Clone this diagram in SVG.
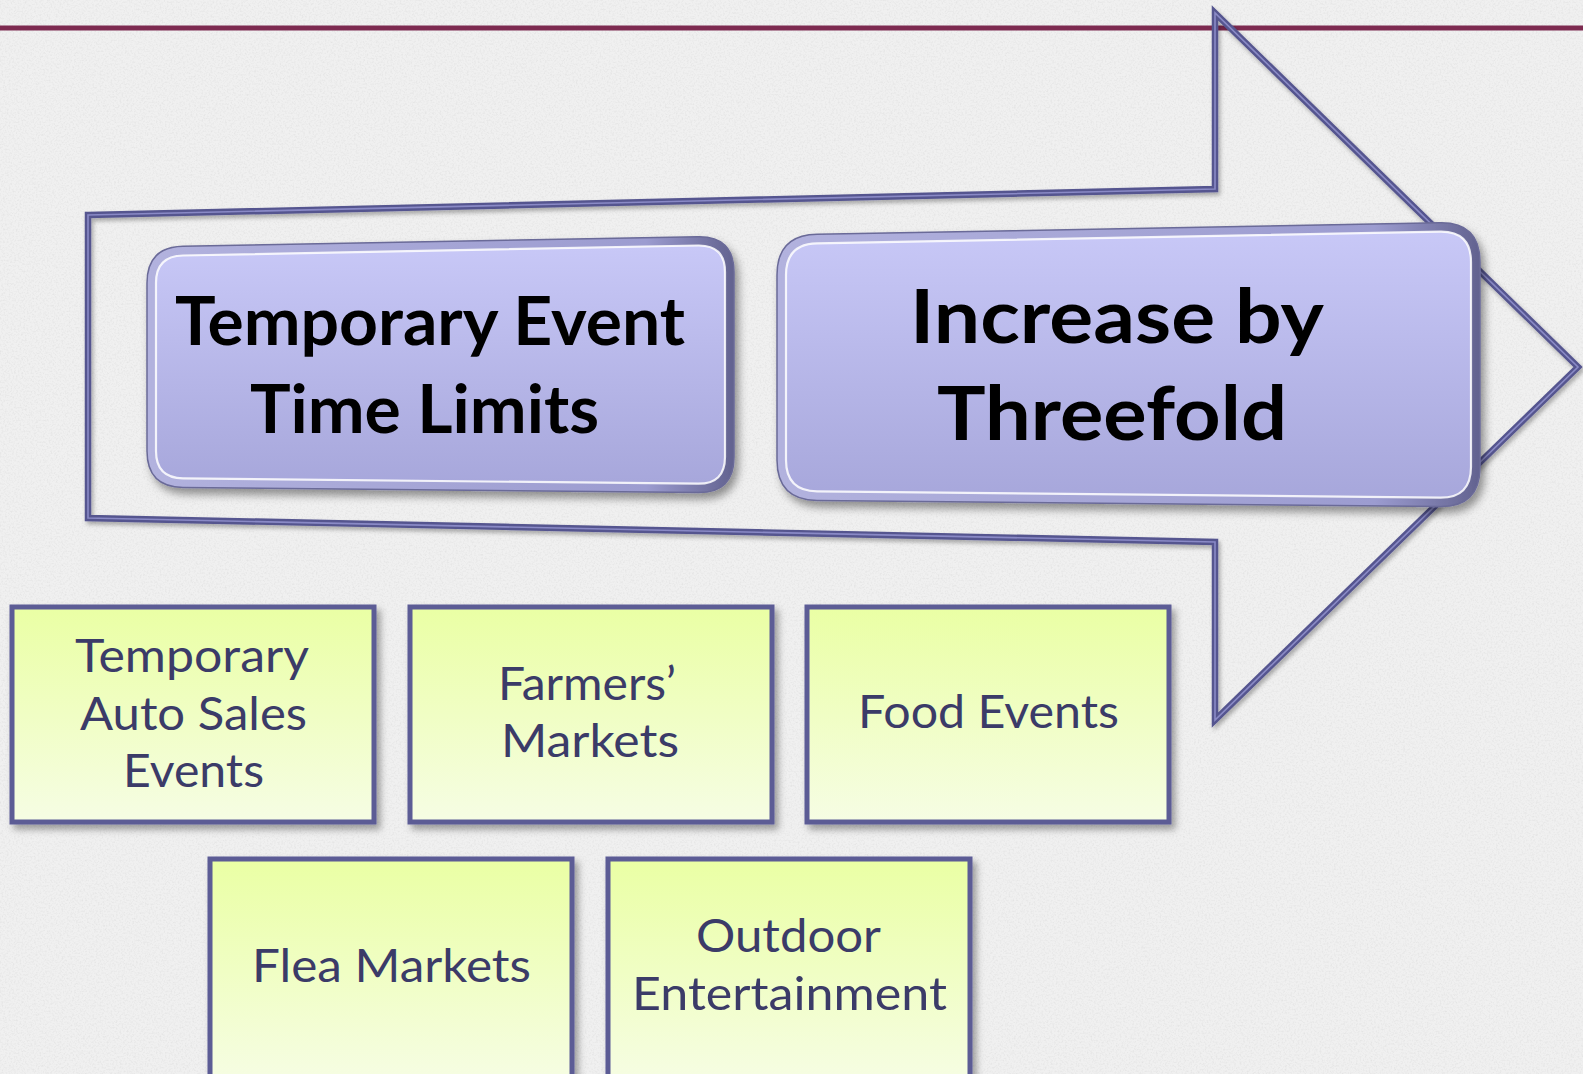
<svg xmlns="http://www.w3.org/2000/svg" width="1583" height="1074" viewBox="0 0 1583 1074">
<style>
.ybox{fill:url(#yGrad);stroke:#5b5b95;stroke-width:5;filter:url(#ySh)}
.ytxt{font-family:Lato,"Open Sans","Liberation Sans",sans-serif;font-size:46px;fill:#3b3b68}
.btxt{font-family:Lato,"Open Sans","Liberation Sans",sans-serif;font-weight:700;fill:#000}
.rim{fill:url(#rimGrad);stroke:#6a6a98;stroke-width:1.5}
.face{fill:url(#faceGrad);stroke:#ffffff;stroke-opacity:0.85;stroke-width:2.2}
</style>
<defs>
<filter id="noise" x="0" y="0" width="100%" height="100%">
<feTurbulence type="fractalNoise" baseFrequency="0.55" numOctaves="3" seed="3" result="n"/>
<feColorMatrix in="n" type="matrix" values="0 0 0 0 0.55  0 0 0 0 0.55  0 0 0 0 0.55  0 0 0 1.6 -0.7"/>
</filter>
<filter id="ySh" x="-10%" y="-10%" width="125%" height="125%">
<feDropShadow dx="4" dy="5" stdDeviation="3.5" flood-color="#000" flood-opacity="0.35"/>
</filter>
<filter id="pSh" x="-10%" y="-10%" width="125%" height="130%">
<feDropShadow dx="4" dy="6" stdDeviation="4" flood-color="#000" flood-opacity="0.4"/>
</filter>
<filter id="aSh" x="-5%" y="-5%" width="110%" height="110%">
<feDropShadow dx="2" dy="3" stdDeviation="2" flood-color="#000" flood-opacity="0.3"/>
</filter>
<linearGradient id="yGrad" x1="0" y1="0" x2="0" y2="1">
<stop offset="0" stop-color="#eaffa4"/>
<stop offset="1" stop-color="#f6fde4"/>
</linearGradient>
<linearGradient id="faceGrad" x1="0" y1="0" x2="0" y2="1">
<stop offset="0" stop-color="#c8c8f7"/>
<stop offset="1" stop-color="#a7a7db"/>
</linearGradient>
<linearGradient id="rimGrad" x1="0" y1="0" x2="1" y2="0">
<stop offset="0" stop-color="#b2b2de"/>
<stop offset="0.85" stop-color="#9c9cd0"/>
<stop offset="1" stop-color="#62628f"/>
</linearGradient>
</defs>

<rect id="bg" width="1583" height="1074" fill="#f0f0f0"/>
<rect width="1583" height="1074" filter="url(#noise)" opacity="0.35"/>

<line id="topline" x1="0" y1="28" x2="1583" y2="28" stroke="#7d2a50" stroke-width="5"/>

<g id="connectors">
<g id="arrow" filter="url(#aSh)">
<path d="M88,215 L1215,189 L1215,13 L1578,367 L1215,720 L1215,542 L88,518 Z" fill="none" stroke="#55558f" stroke-width="6.5" stroke-linejoin="miter" stroke-miterlimit="10"/>
<path d="M88,215 L1215,189 L1215,13 L1578,367 L1215,720 L1215,542 L88,518 Z" fill="none" stroke="#8a8ac6" stroke-width="1.6" stroke-linejoin="miter" stroke-miterlimit="10"/>
</g>
</g>

<g id="node-time-limits">
<path class="rim" filter="url(#pSh)" d="M183,246.3 L698,236.7 Q734,236 734,272 L734,457 Q734,493 698,492.6 L183,487.4 Q147,487 147,451 L147,283 Q147,247 183,246.3 Z"/>
<path class="face" d="M183,255.5 L698,245.5 Q725,245 725,272 L725,457 Q725,484 698,483.7 L183,478.3 Q156,478 156,451 L156,283 Q156,256 183,255.5 Z"/>
<text class="btxt" font-size="67" x="175" y="345" textLength="510" lengthAdjust="spacingAndGlyphs">Temporary Event</text>
<text class="btxt" font-size="67" x="250" y="433" textLength="349" lengthAdjust="spacingAndGlyphs">Time Limits</text>
</g>

<g id="node-threefold">
<path class="rim" filter="url(#pSh)" d="M817,234.3 L1440,222.7 Q1480,222 1480,262 L1480,467 Q1480,507 1440,506.6 L817,500.4 Q777,500 777,460 L777,275 Q777,235 817,234.3 Z"/>
<path class="face" d="M817,243.4 L1440,231.6 Q1471,231 1471,262 L1471,467 Q1471,498 1440,497.7 L817,491.3 Q786,491 786,460 L786,275 Q786,244 817,243.4 Z"/>
<text class="btxt" font-size="74" x="910" y="343" textLength="414" lengthAdjust="spacingAndGlyphs">Increase by</text>
<text class="btxt" font-size="74" x="937" y="440" textLength="350" lengthAdjust="spacingAndGlyphs">Threefold</text>
</g>

<g id="node-auto-sales">
<rect class="ybox" x="12" y="607" width="362" height="215"/>
<text class="ytxt" x="75" y="672" textLength="234" lengthAdjust="spacingAndGlyphs">Temporary</text>
<text class="ytxt" x="80" y="730" textLength="227" lengthAdjust="spacingAndGlyphs">Auto Sales</text>
<text class="ytxt" x="123" y="787" textLength="141" lengthAdjust="spacingAndGlyphs">Events</text>
</g>

<g id="node-farmers">
<rect class="ybox" x="410" y="607" width="362" height="215"/>
<text class="ytxt" x="498" y="700" textLength="178" lengthAdjust="spacingAndGlyphs">Farmers’</text>
<text class="ytxt" x="501" y="757" textLength="178" lengthAdjust="spacingAndGlyphs">Markets</text>
</g>

<g id="node-food">
<rect class="ybox" x="807" y="607" width="362" height="215"/>
<text class="ytxt" x="858" y="728" textLength="261" lengthAdjust="spacingAndGlyphs">Food Events</text>
</g>

<g id="node-flea">
<rect class="ybox" x="210" y="859" width="362" height="225"/>
<text class="ytxt" x="252" y="982" textLength="279" lengthAdjust="spacingAndGlyphs">Flea Markets</text>
</g>

<g id="node-outdoor">
<rect class="ybox" x="608" y="859" width="362" height="225"/>
<text class="ytxt" x="696" y="952" textLength="185" lengthAdjust="spacingAndGlyphs">Outdoor</text>
<text class="ytxt" x="632" y="1010" textLength="315" lengthAdjust="spacingAndGlyphs">Entertainment</text>
</g>
</svg>
